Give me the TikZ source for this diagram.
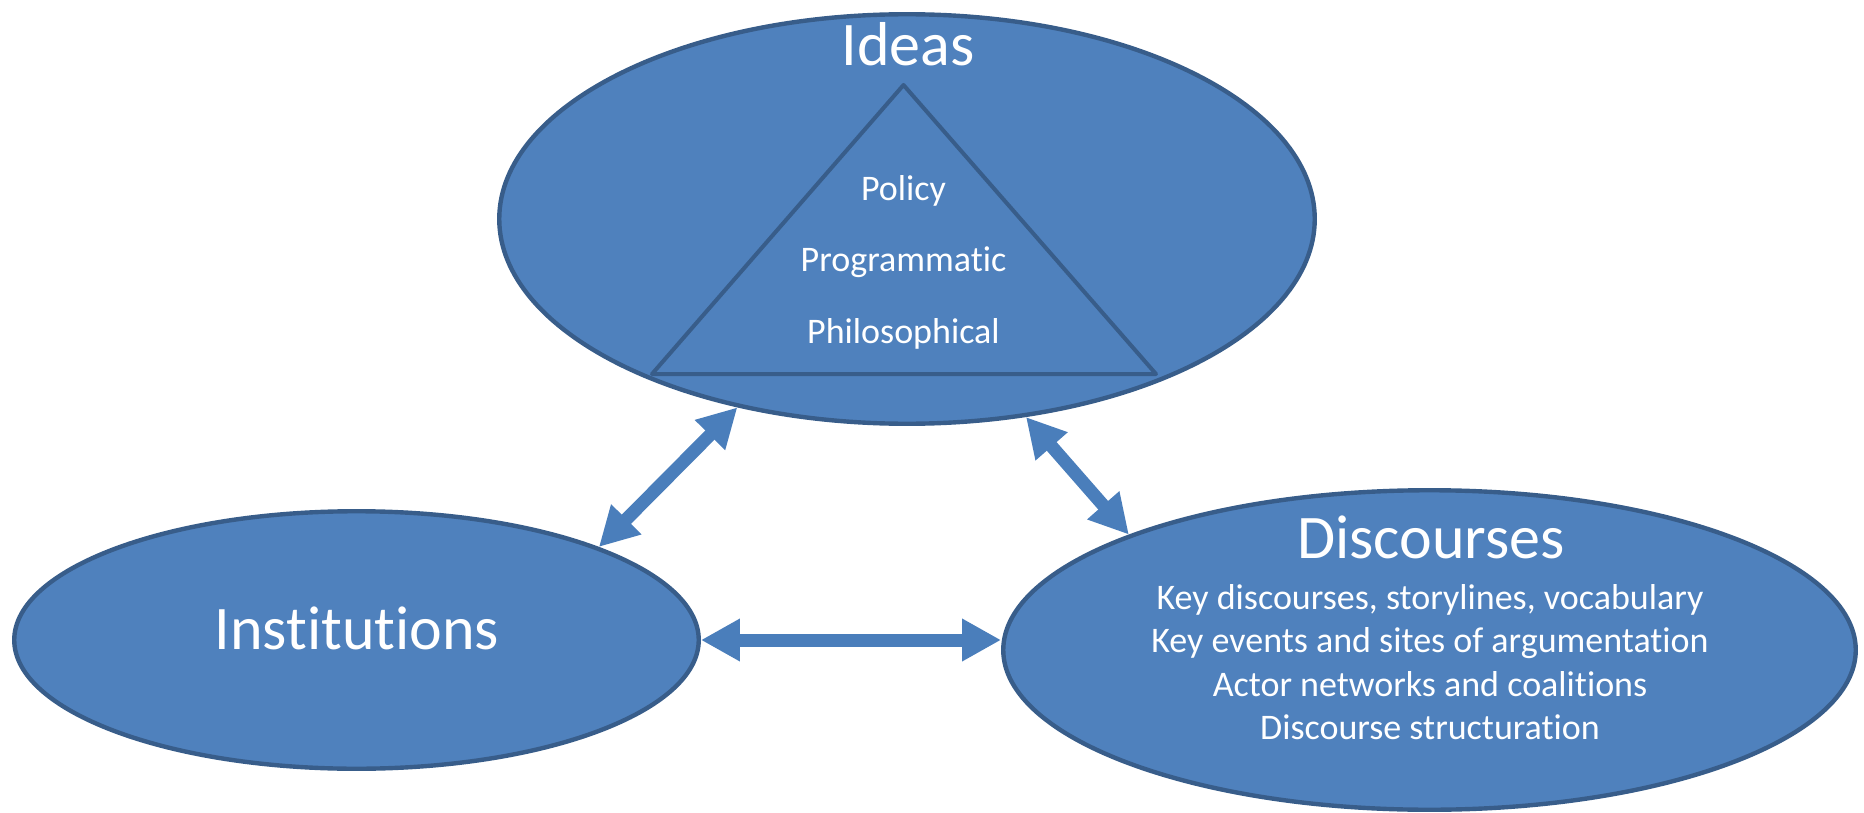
\documentclass[tikz,border=0pt]{standalone}
\usepackage{fontspec}
\setmainfont{Carlito}[Ligatures={NoCommon,NoContextual,NoRequired},RawFeature={-liga;-clig;-calt;-dlig}]
\usetikzlibrary{shapes.geometric,arrows.meta}
\definecolor{ovalfill}{HTML}{4F81BD}
\definecolor{ovaldraw}{HTML}{385D8A}
\definecolor{arrowcol}{HTML}{4A7EBB}
\tikzset{
  oval/.style={ellipse, fill=ovalfill, draw=ovaldraw, line width=2.2pt, inner sep=0pt},
  bigtext/.style={text=white, font=\fontsize{31}{37}\selectfont, anchor=base, inner sep=0pt},
  smalltext/.style={text=white, font=\fontsize{18}{22}\selectfont, anchor=base, inner sep=0pt},
  blockarrow/.style={draw=arrowcol, line width=6.5pt, {Triangle[width=20pt,length=19.5pt]}-{Triangle[width=20pt,length=19.5pt]}}
}
\begin{document}
\begin{tikzpicture}[x=0.5pt,y=-0.5pt]
\path[use as bounding box] (0,0) rectangle (1864,813);
% ellipses
\node[oval, minimum width=407.75pt, minimum height=204.75pt] (ideas) at (907,219) {};
\node[oval, minimum width=342.25pt, minimum height=128.75pt] (inst) at (356.5,640) {};
\node[oval, minimum width=426.25pt, minimum height=159.75pt] (disc) at (1429.5,650) {};
% triangle
\coordinate (tapex) at (903.5,85);
\coordinate (tleft) at (652,374);
\coordinate (tright) at (1156,374);
\draw[ovaldraw, line width=2pt, line join=round] (tapex) -- (tleft) -- (tright) -- cycle;
% texts
\node[bigtext] (tideas) at (908,66) {Ideas};
\node[smalltext] (tpol) at (903.5,200) {Policy};
\node[smalltext] (tprog) at (903.5,271.5) {Programmatic};
\node[smalltext] (tphil) at (903.5,343) {Philosophical};
\node[bigtext] (tinst) at (357,649) {Institutions};
\node[bigtext] (tdisc) at (1431,558) {Discourses};
\node[smalltext] (d1) at (1430,609) {Key discourses, storylines, vocabulary};
\node[smalltext] (d2) at (1430,652) {Key events and sites of argumentation};
\node[smalltext] (d3) at (1430,696) {Actor networks and coalitions};
\node[smalltext] (d4) at (1430,739) {Discourse structuration};
% arrows
\draw[blockarrow] (ideas.228.3) -- (inst.21.3);
\draw[blockarrow] (ideas.301.8) -- (disc.159.5);
\draw[blockarrow] (inst.east) -- (inst.east -| disc.west);
\end{tikzpicture}
\end{document}
